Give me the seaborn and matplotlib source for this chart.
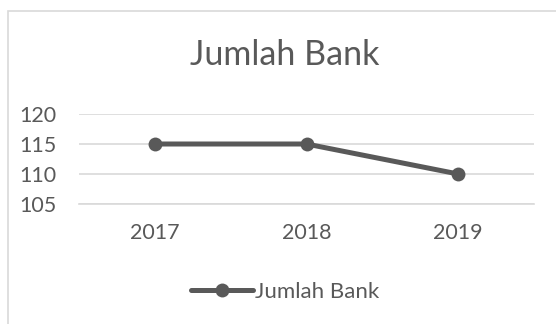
import matplotlib
matplotlib.use("Agg")
import matplotlib.pyplot as plt
import seaborn as sns
import pandas as pd
from matplotlib.patches import Rectangle

years = ["2017", "2018", "2019"]
jumlah_bank = [115, 115, 110]
series_name = "Jumlah Bank"
yticks = [105, 110, 115, 120]

df = pd.DataFrame({"Tahun": years, "Nilai": jumlah_bank, "Seri": series_name})

sns.set_theme(style="white")
plt.rcParams['font.family'] = ['Lato', 'DejaVu Sans']

fig = plt.figure(figsize=(5.56, 3.24), dpi=100)
fig.patches.append(Rectangle((8/556, -0.1), 1.2, 1 - 11/324 + 0.1, transform=fig.transFigure,
                             fill=False, edgecolor="#d9d9d9", linewidth=1.2))
ax = fig.add_axes([79/556, 1 - 204/324, (534 - 79)/556, (204 - 114)/324])

col = "#595959"
sns.lineplot(data=df, x="Tahun", y="Nilai", hue="Seri", palette=[col], marker="o",
             markersize=10, linewidth=3.6, markeredgewidth=0, ax=ax, sort=False)

ax.set_xlim(-0.5, 2.5)
ax.set_ylim(105, 120)
ax.set_yticks(yticks)
ax.yaxis.grid(True, color="#d9d9d9", linewidth=1.2)
ax.set_axisbelow(True)
for s in ["top", "right", "left"]:
    ax.spines[s].set_visible(False)
ax.spines["bottom"].set_color("#d9d9d9")
ax.spines["bottom"].set_linewidth(1.2)
ax.tick_params(axis="both", length=0, labelsize=15.5, colors=col)
ax.tick_params(axis="y", pad=16)
ax.tick_params(axis="x", pad=14)
ax.set_xlabel("")
ax.set_ylabel("")

fig.text(285/556, 1 - 55/324, "Jumlah Bank", ha="center", va="center", fontsize=24.5, color=col)

leg = ax.legend(loc="center", bbox_to_anchor=(285/556, 1 - 292/324), bbox_transform=fig.transFigure,
                frameon=False, fontsize=16, handlelength=2.8, handletextpad=0.1)
for t in leg.get_texts():
    t.set_color(col)

fig.savefig("out.png", dpi=100)
